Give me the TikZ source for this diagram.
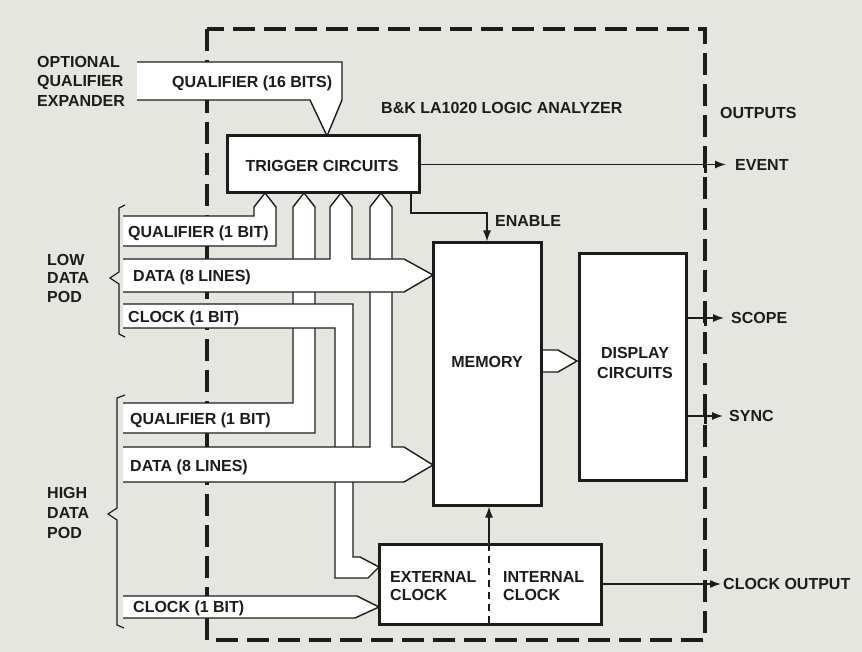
\documentclass[tikz,border=0pt]{standalone}
\usepackage{fontspec}
\setmainfont{Liberation Sans}
\usetikzlibrary{arrows.meta}
\definecolor{bg}{RGB}{230,230,224}
\definecolor{ink}{RGB}{28,28,26}
\newcommand\busshape[1]{\fill[white] #1 -- cycle; \draw[busline] #1;}
\begin{document}
\begin{tikzpicture}[x=1pt,y=-1pt,
  lbl/.style={font=\fontsize{16}{19}\selectfont\bfseries, inner sep=0pt, text=ink},
  one/.style={lbl, text height=11.5pt, text depth=0pt},
  box/.style={draw=ink, line width=3pt, fill=white, inner sep=0pt},
  busline/.style={draw=ink, line width=1.4pt, line join=miter},
  sig/.style={draw=ink, line width=1.4pt, -{Latex[length=11pt,width=8pt]}},
  border/.style={draw=ink, line width=3.2pt, dash pattern=on 22pt off 9pt},
  tick/.style={draw=ink, line width=3pt}]

\fill[bg] (0,0) rectangle (862,652);
\useasboundingbox (0,0) rectangle (862,652);

% analyzer outline
\draw[border] (207,29) rectangle (705,640);

% buses (vertical runs pass behind the horizontal bands)
% high qualifier -> trigger
\busshape{(123,403) -- (293,403) -- (293,207) -- (304,193) -- (315,207) -- (315,433) -- (123,433)}
% low clock -> external clock
\busshape{(123,304) -- (353,304) -- (353,557) -- (360,557) -- (379,567) -- (368,578) -- (335,578) -- (335,328) -- (123,328)}
% high data -> memory and trigger
\busshape{(123,447) -- (370,447) -- (370,207) -- (381,193) -- (392,207) -- (392,447) -- (404,447) -- (433,465) -- (404,482) -- (123,482)}
% low data -> memory and trigger
\busshape{(123,259) -- (330,259) -- (330,207) -- (341,193) -- (352,207) -- (352,259) -- (404,259) -- (433,275) -- (404,292) -- (123,292)}
% low qualifier -> trigger
\busshape{(123,216) -- (254,216) -- (254,207) -- (265,193) -- (276,207) -- (276,246) -- (123,246)}
% high clock -> external clock
\busshape{(123,596) -- (357,596) -- (379,607) -- (355,618) -- (123,618)}
% qualifier 16 bits
\busshape{(137,62) -- (342,62) -- (342,100) -- (327,136) -- (310,100) -- (137,100)}
% memory -> display
\busshape{(541,350) -- (558,350) -- (577,361) -- (558,372) -- (541,372)}

% boxes
\node[box, minimum width=192pt, minimum height=57pt] (trig) at (323,164.5) {};
\node[box, minimum width=108pt, minimum height=262pt] (mem) at (487,374) {};
\node[box, minimum width=107pt, minimum height=226pt] (disp) at (632.5,367) {};
\node[box, minimum width=222pt, minimum height=80pt] (clk) at (490,584) {};

% connectors
\coordinate (evt) at (726,164.5);
\coordinate (enA) at (411,213);
\coordinate (ic) at (489,544);
\coordinate (sc) at (724,318);
\coordinate (sy) at (723,416);
\coordinate (co) at (721,584);
\draw[sig] (trig.east) -- (evt);
\draw[sig] (trig.south -| enA) -- (enA) -- (enA -| mem.north) -- (mem.north);
\draw[sig] (ic) -- (ic |- mem.south);
\draw[draw=ink, line width=1.4pt, dash pattern=on 7pt off 5pt] (ic) -- (ic |- clk.south);
\draw[sig] (sc -| disp.east) -- (sc);
\draw[sig] (sy -| disp.east) -- (sy);
\draw[sig] (clk.east) -- (co);

% ticks where outputs cross the outline
\draw[tick] (705,156) -- (705,173);
\draw[tick] (705,310) -- (705,326);
\draw[tick] (705,408) -- (705,424);

% texts
\node[lbl, anchor=west, align=left, font=\fontsize{16}{19.5}\selectfont\bfseries] (optq) at (37,81) {OPTIONAL\\QUALIFIER\\EXPANDER};
\node[one, anchor=west] (q16) at (172,82) {QUALIFIER (16 BITS)};
\node[one, anchor=west] (title) at (381,108) {B\&K LA1020 LOGIC ANALYZER};
\node[one, anchor=west] (outs) at (720,113) {OUTPUTS};
\node[one] (trigt) at (322,166) {TRIGGER CIRCUITS};
\node[one, anchor=west] (evtt) at (735,165) {EVENT};
\node[one, anchor=west] (ent) at (495,221) {ENABLE};
\node[lbl, anchor=west, align=left, font=\fontsize{16}{18.5}\selectfont\bfseries] (lowp) at (47,278) {LOW\\DATA\\POD};
\node[lbl, anchor=west, align=left, font=\fontsize{16}{20}\selectfont\bfseries] (highp) at (47,513) {HIGH\\DATA\\POD};
\node[one, anchor=west] (lq) at (128,232) {QUALIFIER (1 BIT)};
\node[one, anchor=west] (ld) at (133,276) {DATA (8 LINES)};
\node[one, anchor=west] (lc) at (128,317) {CLOCK (1 BIT)};
\node[one, anchor=west] (hq) at (130,419) {QUALIFIER (1 BIT)};
\node[one, anchor=west] (hd) at (130,466) {DATA (8 LINES)};
\node[one, anchor=west] (hc) at (133,607) {CLOCK (1 BIT)};
\node[one] (memt) at (487,362) {MEMORY};
\node[lbl, align=center, font=\fontsize{16}{20}\selectfont\bfseries] (dispt) at (635,363) {DISPLAY\\CIRCUITS};
\node[one, anchor=west] (sct) at (731,318) {SCOPE};
\node[one, anchor=west] (syt) at (729,416) {SYNC};
\node[lbl, anchor=west, align=left, font=\fontsize{16}{18}\selectfont\bfseries] (ext) at (390,586) {EXTERNAL\\CLOCK};
\node[lbl, anchor=west, align=left, font=\fontsize{16}{18}\selectfont\bfseries] (intt) at (503,586) {INTERNAL\\CLOCK};
\node[one, anchor=west] (cot) at (723,584) {CLOCK OUTPUT};

% braces
\draw[ink, line width=1.2pt] (125,205) -- (119,208) -- (119,272) -- (110,278) -- (119,284) -- (119,334) -- (125,337);
\draw[ink, line width=1.2pt] (125,395) -- (117,398) -- (117,508) -- (108,514) -- (117,520) -- (117,625) -- (124,628);
\end{tikzpicture}
\end{document}
